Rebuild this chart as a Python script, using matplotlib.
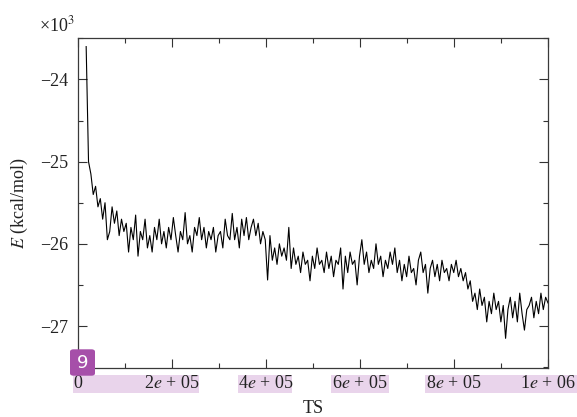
import numpy as np
import matplotlib
matplotlib.use("Agg")
import matplotlib.pyplot as plt
from matplotlib.patches import FancyBboxPatch, Rectangle
from matplotlib.ticker import MultipleLocator, FixedLocator, FixedFormatter

plt.rcParams['font.family'] = ['Liberation Serif', 'DejaVu Serif']
plt.rcParams['mathtext.fontset'] = 'stix'
plt.rcParams['axes.unicode_minus'] = True

# ---- data (energies in units of 10^3 kcal/mol) ----
ts_first = 18000
ts_last = 1000000
energy = [
    -23.60, -25.00, -25.15, -25.40, -25.30, -25.55, -25.45, -25.70, -25.50, -25.95,
    -25.85, -25.55, -25.75, -25.60, -25.90, -25.70, -25.85, -25.75, -26.10, -25.80,
    -25.95, -25.65, -26.15, -25.85, -25.95, -25.70, -26.05, -25.90, -26.10, -25.80,
    -25.95, -25.70, -26.00, -25.85, -26.05, -25.80, -25.95, -25.68, -25.90, -26.10,
    -25.85, -25.95, -25.62, -26.00, -25.90, -26.10, -25.80, -25.90, -25.68, -25.95,
    -25.80, -26.05, -25.85, -25.95, -25.80, -26.10, -25.90, -25.85, -26.05, -25.70,
    -25.90, -25.95, -25.63, -25.95, -25.80, -26.05, -25.70, -25.90, -25.68, -25.95,
    -25.80, -25.70, -25.90, -25.75, -26.00, -25.85, -25.95, -26.44, -25.90, -26.20,
    -26.05, -26.25, -26.00, -26.15, -26.05, -26.20, -25.80, -26.30, -26.05, -26.25,
    -26.15, -26.35, -26.10, -26.25, -26.20, -26.45, -26.15, -26.30, -26.05, -26.25,
    -26.20, -26.35, -26.10, -26.30, -26.15, -26.40, -26.20, -26.25, -26.05, -26.55,
    -26.15, -26.35, -26.10, -26.25, -26.20, -26.50, -26.15, -25.95, -26.25, -26.10,
    -26.35, -26.20, -26.30, -26.00, -26.25, -26.15, -26.40, -26.20, -26.30, -26.10,
    -26.25, -26.05, -26.35, -26.20, -26.45, -26.25, -26.40, -26.15, -26.35, -26.30,
    -26.50, -26.20, -26.10, -26.35, -26.25, -26.60, -26.30, -26.20, -26.40, -26.25,
    -26.45, -26.20, -26.35, -26.30, -26.45, -26.25, -26.35, -26.20, -26.40, -26.30,
    -26.45, -26.35, -26.55, -26.45, -26.70, -26.60, -26.80, -26.55, -26.75, -26.65,
    -26.95, -26.70, -26.85, -26.60, -26.80, -26.70, -26.95, -26.75, -27.15, -26.80,
    -26.65, -26.90, -26.70, -26.95, -26.60, -26.85, -27.05, -26.80, -26.75, -26.65,
    -26.90, -26.70, -26.85, -26.60, -26.80, -26.65, -26.72,
]
x_tick_values = [0, 200000, 400000, 600000, 800000, 1000000]
x_tick_labels = ["0", "2$e$ + 05", "4$e$ + 05", "6$e$ + 05", "8$e$ + 05", "1$e$ + 06"]
y_tick_values = [-24, -25, -26, -27]

ts = np.linspace(ts_first, ts_last, len(energy))

W, H = 577, 417
fig = plt.figure(figsize=(W/100, H/100), dpi=100)
ax = fig.add_axes([77.7/W, 1-368/H, (548-77.7)/W, (368-37.8)/H])

ax.plot(ts, energy, color='black', lw=0.8)

ax.set_xlim(0, 1000000)
ax.set_ylim(-27.511, -23.493)

ax.xaxis.set_major_locator(FixedLocator(x_tick_values))
ax.xaxis.set_major_formatter(FixedFormatter(x_tick_labels))
ax.xaxis.set_minor_locator(MultipleLocator(100000))
ax.yaxis.set_major_locator(FixedLocator(y_tick_values))
ax.yaxis.set_minor_locator(MultipleLocator(0.5))

ax.tick_params(which='both', direction='in', top=True, right=True,
               colors='#333333', labelcolor='#222222', labelsize=13)
ax.tick_params(which='major', length=6.5, width=0.8)
ax.tick_params(which='minor', length=3.6, width=0.8)
ax.tick_params(axis='y', pad=6.8)
ax.tick_params(axis='x', pad=5.0)
for s in ax.spines.values():
    s.set_color('#3a3a3a')
    s.set_linewidth(0.9)

ax.set_xlabel("TS", fontsize=13, color='#222222', labelpad=5.5)
ax.set_ylabel("$E$ (kcal/mol)", fontsize=13, color='#222222', labelpad=7)

fig.text(39/W, 1-31.7/H, "×10$^3$", fontsize=13, color='#222222',
         ha='left', va='baseline')

# annotation overlay: pink bands under tick labels and the numbered badge
for x0, x1 in [(72.7, 199.3), (237.7, 292.0), (331.3, 388.7), (425.3, 577.0)]:
    fig.patches.append(Rectangle((x0/W, 1-393.3/H), (x1-x0)/W, 18.3/H,
                                 transform=fig.transFigure, facecolor='#e9d4eb',
                                 edgecolor='none', zorder=-1))
fig.patches.append(FancyBboxPatch((70/W, 1-375.7/H), 25/W, 26.4/H,
                                  boxstyle="round,pad=0,rounding_size=0.006",
                                  transform=fig.transFigure, facecolor='#a64fa9',
                                  edgecolor='none', zorder=5))
fig.text(82.7/W, 1-362.7/H, "9", color='white', fontsize=13, family='DejaVu Sans',
         ha='center', va='center', zorder=6)

fig.savefig("out.png", dpi=100)
